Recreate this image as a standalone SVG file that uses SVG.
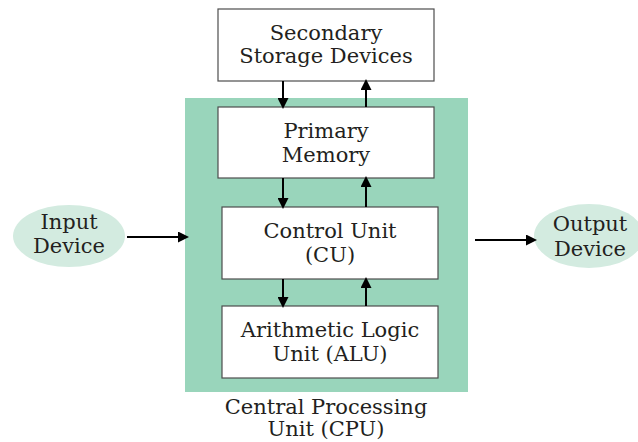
<svg xmlns="http://www.w3.org/2000/svg" width="638" height="442" viewBox="0 0 638 442">
<defs>
<style>
.box{fill:#fff;stroke:#4d4d4d;stroke-width:1.2}
.t{font-family:"DejaVu Serif","Liberation Serif",serif;font-size:21px;fill:#231f20;text-anchor:middle}
.c{stroke:#000;stroke-width:2;fill:none;marker-end:url(#ah)}
</style>
<marker id="ah" markerWidth="11" markerHeight="11" refX="9" refY="5.5" orient="auto" markerUnits="userSpaceOnUse">
<path d="M0,0 L11,5.5 L0,11 z" fill="#000"/>
</marker>
</defs>
<rect width="638" height="442" fill="#fff"/>
<g id="cpu">
<rect x="185" y="98" width="283" height="294" fill="#99d5bb"/>
<text class="t" x="326" y="414">Central Processing</text>
<text class="t" x="326" y="436">Unit (CPU)</text>
</g>
<g id="secondary">
<rect class="box" x="218" y="9" width="216" height="72"/>
<text class="t" x="326" y="40">Secondary</text>
<text class="t" x="326" y="63">Storage Devices</text>
</g>
<g id="primary">
<rect class="box" x="218" y="107" width="216" height="71"/>
<text class="t" x="326" y="138">Primary</text>
<text class="t" x="326" y="162">Memory</text>
</g>
<g id="cu">
<rect class="box" x="222" y="207" width="216" height="72"/>
<text class="t" x="330" y="238">Control Unit</text>
<text class="t" x="330" y="262">(CU)</text>
</g>
<g id="alu">
<rect class="box" x="222" y="306" width="216" height="72"/>
<text class="t" x="330" y="337">Arithmetic Logic</text>
<text class="t" x="330" y="361">Unit (ALU)</text>
</g>
<g id="input">
<ellipse cx="69" cy="236" rx="56" ry="31" fill="#d3ebe0"/>
<text class="t" x="69" y="229">Input</text>
<text class="t" x="69" y="253">Device</text>
</g>
<g id="output">
<ellipse cx="589" cy="236" rx="55" ry="32" fill="#d3ebe0"/>
<text class="t" x="590" y="231">Output</text>
<text class="t" x="590" y="256">Device</text>
</g>
<g id="connectors">
<line class="c" x1="283" y1="81" x2="283" y2="107"/>
<line class="c" x1="366" y1="107" x2="366" y2="81"/>
<line class="c" x1="283" y1="178" x2="283" y2="207"/>
<line class="c" x1="366" y1="207" x2="366" y2="178"/>
<line class="c" x1="283" y1="279" x2="283" y2="306"/>
<line class="c" x1="366" y1="306" x2="366" y2="279"/>
<line class="c" x1="127" y1="237" x2="187" y2="237"/>
<line class="c" x1="475" y1="240" x2="535" y2="240"/>
</g>
</svg>
